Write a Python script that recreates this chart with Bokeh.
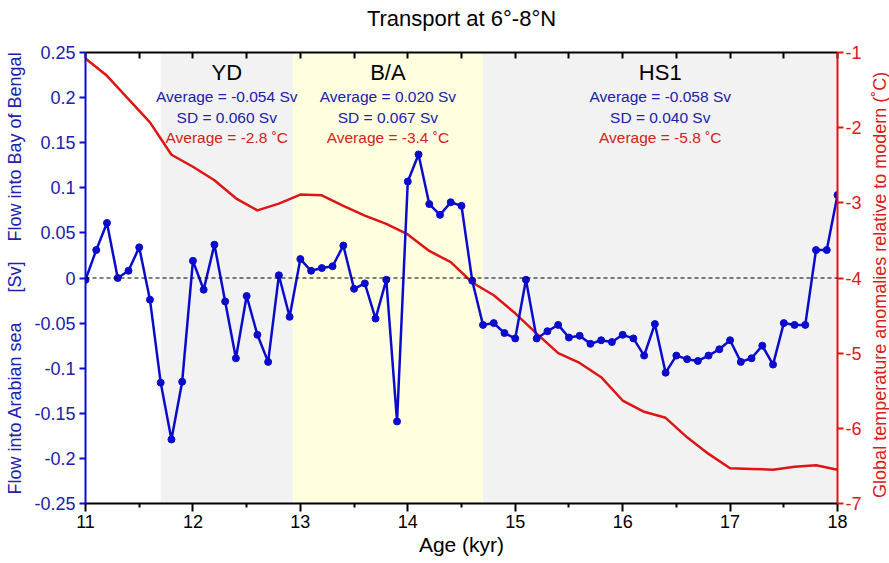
from bokeh.plotting import figure
from bokeh.layouts import row
from bokeh.models import (Range1d, LinearAxis, FixedTicker, BoxAnnotation, Span,
                          ColumnDataSource)
from bokeh.core.properties import value
from bokeh.embed import file_html
from bokeh.resources import INLINE
import math

# ---------------- data ----------------
flow_age = [11.0, 11.1, 11.2, 11.3, 11.4, 11.5, 11.6, 11.7, 11.8, 11.9,
            12.0, 12.1, 12.2, 12.3, 12.4, 12.5, 12.6, 12.7, 12.8, 12.9,
            13.0, 13.1, 13.2, 13.3, 13.4, 13.5, 13.6, 13.7, 13.8, 13.9,
            14.0, 14.1, 14.2, 14.3, 14.4, 14.5, 14.6, 14.7, 14.8, 14.9,
            15.0, 15.1, 15.2, 15.3, 15.4, 15.5, 15.6, 15.7, 15.8, 15.9,
            16.0, 16.1, 16.2, 16.3, 16.4, 16.5, 16.6, 16.7, 16.8, 16.9,
            17.0, 17.1, 17.2, 17.3, 17.4, 17.5, 17.6, 17.7, 17.8, 17.9, 18.0]
flow_sv = [-0.002, 0.031, 0.061, 0.000, 0.008, 0.034, -0.024, -0.116, -0.179, -0.115,
           0.019, -0.013, 0.037, -0.026, -0.089, -0.020, -0.063, -0.093, 0.003, -0.043,
           0.021, 0.008, 0.011, 0.013, 0.036, -0.012, -0.006, -0.045, -0.002, -0.159,
           0.107, 0.137, 0.082, 0.070, 0.084, 0.080, -0.003, -0.052, -0.050, -0.061,
           -0.067, -0.002, -0.067, -0.059, -0.052, -0.066, -0.064, -0.073, -0.069, -0.071,
           -0.063, -0.067, -0.086, -0.051, -0.105, -0.086, -0.090, -0.092, -0.086, -0.079,
           -0.069, -0.093, -0.089, -0.075, -0.096, -0.050, -0.052, -0.052, 0.031, 0.031, 0.092]

temp_age = [11.0, 11.2, 11.4, 11.6, 11.8, 12.0, 12.2, 12.4, 12.6, 12.8,
            13.0, 13.2, 13.4, 13.6, 13.8, 14.0, 14.2, 14.4, 14.6, 14.8,
            15.0, 15.2, 15.4, 15.6, 15.8, 16.0, 16.2, 16.4, 16.6, 16.8,
            17.0, 17.2, 17.4, 17.6, 17.8, 18.0]
temp_anom = [-1.08, -1.31, -1.62, -1.93, -2.36, -2.52, -2.70, -2.94, -3.10, -3.01,
             -2.89, -2.90, -3.04, -3.17, -3.28, -3.42, -3.64, -3.79, -4.06, -4.23,
             -4.47, -4.74, -5.00, -5.13, -5.32, -5.63, -5.78, -5.86, -6.12, -6.34,
             -6.53, -6.54, -6.55, -6.51, -6.49, -6.55]

period_names = ["YD", "B/A", "HS1"]
period_start = [11.7, 12.93, 14.7]
period_end = [12.93, 14.7, 18.0]
period_avg_flow = ["-0.054", "0.020", "-0.058"]
period_sd_flow = ["0.060", "0.067", "0.040"]
period_avg_temp = ["-2.8", "-3.4", "-5.8"]

x_ticks = [11, 12, 13, 14, 15, 16, 17, 18]
x_minor_ticks = [11.5, 12.5, 13.5, 14.5, 15.5, 16.5, 17.5]
flow_ticks = [0.25, 0.2, 0.15, 0.1, 0.05, 0.0, -0.05, -0.1, -0.15, -0.2, -0.25]
flow_tick_labels = ["0.25", "0.2", "0.15", "0.1", "0.05", "0", "-0.05", "-0.1", "-0.15", "-0.2", "-0.25"]
temp_ticks = [-1, -2, -3, -4, -5, -6, -7]
temp_tick_labels = ["-1", "-2", "-3", "-4", "-5", "-6", "-7"]

title_text = "Transport at 6\u00b0-8\u00b0N"
x_label = "Age (kyr)"
left_label_parts = ["Flow into Arabian sea", "[Sv]", "Flow into Bay of Bengal"]
right_label = "Global temperature anomalies relative to modern (\u02daC)"

# ---------------- style ----------------
FONT = "Liberation Sans"
BLUE = "#0b0bcc"
BLUE_TXT = "#2020aa"
RED = "#dd1515"
RED_TXT = "#d62020"
GRAY = "#f2f2f2"
YELLOW = "#ffffe0"
period_colors = [GRAY, YELLOW, GRAY]
NB = "\u00a0"

MAIN_W = 864
SIDE_W = 889 - MAIN_W

p = figure(width=MAIN_W, height=563, x_range=Range1d(11, 18), y_range=Range1d(-0.25, 0.25),
           output_backend="svg", toolbar_location=None,
           min_border_left=85, min_border_right=MAIN_W - 837, min_border_top=52,
           min_border_bottom=60)
p.xaxis.visible = False
p.yaxis.visible = False
p.grid.visible = False
p.outline_line_color = None
p.background_fill_color = "white"
p.border_fill_color = "white"

p.extra_y_ranges = {"temp": Range1d(-7, -1)}

# period shading
for s, e, c in zip(period_start, period_end, period_colors):
    p.add_layout(BoxAnnotation(left=s, right=e, fill_color=c, fill_alpha=1.0,
                               line_alpha=0, level="underlay"))

# zero line
p.add_layout(Span(location=0, dimension="width", line_color="black",
                  line_width=1, line_dash="4 3"))

# temperature line
p.line(temp_age, temp_anom, y_range_name="temp", line_color=RED, line_width=2.5)

# flow line
p.line(flow_age, flow_sv, line_color=BLUE, line_width=2.5)
p.scatter(flow_age, flow_sv, size=7, fill_color=BLUE, line_color=BLUE)

# period annotations
centers = [(s + e) / 2 for s, e in zip(period_start, period_end)]
src = ColumnDataSource(dict(
    x=centers,
    name=period_names,
    avg=["Average = %s Sv" % v for v in period_avg_flow],
    sd=["SD = %s Sv" % v for v in period_sd_flow],
    tavg=["Average = %s \u02daC" % v for v in period_avg_temp],
))
p.text(x="x", y=0.228, text="name", source=src, text_font=value(FONT),
       text_font_size="22px", text_color="black", text_align="center", text_baseline="middle")
p.text(x="x", y=0.2015, text="avg", source=src, text_font=value(FONT),
       text_font_size="15.5px", text_color=BLUE_TXT, text_align="center", text_baseline="middle")
p.text(x="x", y=0.178, text="sd", source=src, text_font=value(FONT),
       text_font_size="15.5px", text_color=BLUE_TXT, text_align="center", text_baseline="middle")
p.text(x="x", y=0.1555, text="tavg", source=src, text_font=value(FONT),
       text_font_size="15.5px", text_color=RED_TXT, text_align="center", text_baseline="middle")

# axes
bottom = LinearAxis(ticker=FixedTicker(ticks=x_ticks, minor_ticks=x_minor_ticks),
                    axis_label=x_label)
bottom.axis_line_color = "black"
bottom.axis_line_width = 2
bottom.major_tick_line_color = "black"
bottom.major_tick_line_width = 2
bottom.major_tick_out = 8
bottom.major_tick_in = 0
bottom.minor_tick_line_color = "black"
bottom.minor_tick_line_width = 2
bottom.minor_tick_out = 4
bottom.minor_tick_in = 0
bottom.major_label_text_font = FONT
bottom.major_label_text_font_size = "18px"
bottom.major_label_text_color = "black"
bottom.major_label_standoff = 3
bottom.axis_label_text_font = FONT
bottom.axis_label_text_font_size = "21px"
bottom.axis_label_text_font_style = "normal"
bottom.axis_label_text_color = "black"
bottom.axis_label_standoff = 2
p.add_layout(bottom, "below")

# top axis carries the chart title as its label
top = LinearAxis(ticker=FixedTicker(ticks=x_ticks + x_minor_ticks, minor_ticks=[]),
                 axis_label=title_text)
top.axis_line_color = "black"
top.axis_line_width = 2
top.major_tick_line_color = "black"
top.major_tick_line_width = 2
top.major_tick_in = 6
top.major_tick_out = 0
top.minor_tick_line_color = None
top.major_label_text_font_size = "0px"
top.major_label_text_alpha = 0
top.major_label_standoff = 0
top.axis_label_text_font = FONT
top.axis_label_text_font_size = "22px"
top.axis_label_text_font_style = "normal"
top.axis_label_text_color = "black"
top.axis_label_standoff = 22
p.add_layout(top, "above")

left = LinearAxis(ticker=FixedTicker(ticks=flow_ticks, minor_ticks=[]))
left.major_label_overrides = dict(zip(flow_ticks, flow_tick_labels))
left.axis_line_color = BLUE
left.axis_line_width = 2
left.major_tick_line_color = BLUE
left.major_tick_line_width = 2
left.major_tick_out = 6
left.major_tick_in = 0
left.minor_tick_line_color = None
left.major_label_text_font = FONT
left.major_label_text_font_size = "18px"
left.major_label_text_color = BLUE_TXT
left.major_label_standoff = 4
left.axis_label = (NB * 2 + left_label_parts[0] + NB * 6 + left_label_parts[1]
                   + NB * 4 + left_label_parts[2])
left.axis_label_text_font = FONT
left.axis_label_text_font_size = "18px"
left.axis_label_text_font_style = "normal"
left.axis_label_text_color = BLUE_TXT
left.axis_label_standoff = 6
p.add_layout(left, "left")

right = LinearAxis(y_range_name="temp", ticker=FixedTicker(ticks=temp_ticks, minor_ticks=[]))
right.major_label_overrides = dict(zip(temp_ticks, temp_tick_labels))
right.axis_line_color = RED
right.axis_line_width = 2
right.major_tick_line_color = RED
right.major_tick_line_width = 2
right.major_tick_out = 6
right.major_tick_in = 0
right.minor_tick_line_color = None
right.major_label_text_font = FONT
right.major_label_text_font_size = "18px"
right.major_label_text_color = RED_TXT
right.major_label_standoff = 2
p.add_layout(right, "right")

# narrow side strip holding the right-hand axis title (reads bottom to top)
side = figure(width=SIDE_W, height=563, x_range=Range1d(0, SIDE_W), y_range=Range1d(0, 563),
              x_axis_type=None, y_axis_type=None, output_backend="svg",
              toolbar_location=None, min_border=0)
side.outline_line_color = None
side.grid.visible = False
side.background_fill_color = "white"
side.border_fill_color = "white"
side.text(x=[15], y=[273], text=[right_label], angle=math.pi / 2,
          text_align="center", text_baseline="middle", text_font=value(FONT),
          text_font_size="18px", text_color=RED_TXT)

layout = row(p, side, spacing=0)
open("out.html", "w").write(file_html(layout, INLINE))
